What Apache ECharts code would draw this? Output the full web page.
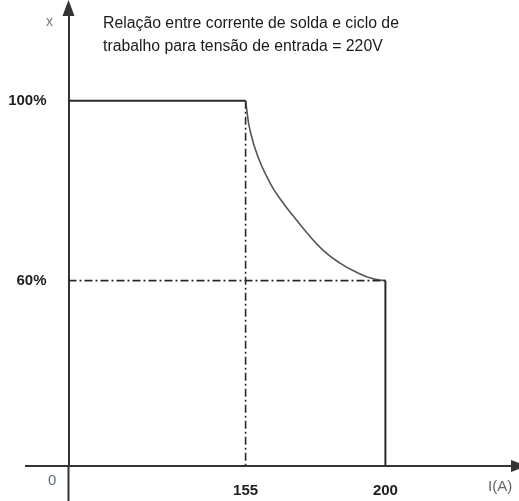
<!DOCTYPE html>
<html>
<head>
<meta charset="utf-8">
<script src="https://cdn.jsdelivr.net/npm/echarts@6/dist/echarts.min.js"></script>
<style>
  html, body { margin: 0; padding: 0; background: #fff; }
  #chart { width: 519px; height: 501px; }
</style>
</head>
<body>
<div id="chart"></div>
<script>
// the drawing is a sketch, not to scale: axis ranges chosen to fit it
var xMin = 98, xMax = 243;
var yMin = 18.8, yMax = 120.6;

var xTicks = [155, 200];
var yTicks = [60, 100];

// duty cycle curve (I in A, x in %)
var curveI = [155, 155.3, 156.4, 159.0, 162.9, 165.7, 170.3, 174.8, 179.9, 185.4, 190.9, 196.0, 200];
var curveX = [100, 98.4, 93.5, 87.5, 81.7, 78.6, 74.4, 70.6, 66.8, 63.9, 61.8, 60.4, 60];

var ink = '#2a2a2a';
var dashDot = [8, 3, 2, 3];

var chart = echarts.init(document.getElementById('chart'));

var curve = [];
for (var i = 0; i < curveI.length; i++) {
    curve.push([curveI[i], curveX[i]]);
}

var option = {
    animation: false,
    title: {
        text: 'Relação entre corrente de solda e ciclo de\ntrabalho para tensão de entrada = 220V',
        left: 98,
        top: 7,
        textStyle: {
            fontFamily: 'Liberation Sans',
            fontSize: 15.8,
            fontWeight: 'normal',
            color: '#1a1a1a',
            lineHeight: 23
        }
    },
    grid: { left: 68.5, right: 0, top: 8, bottom: 35 },
    xAxis: {
        type: 'value',
        min: xMin,
        max: xMax,
        splitLine: { show: false },
        axisTick: { show: false },
        axisLine: {
            onZero: false,
            symbol: ['none', 'triangle'],
            symbolSize: [12, 16],
            lineStyle: { color: '#333', width: 2 }
        },
        axisLabel: {
            customValues: xTicks,
            margin: 17,
            fontFamily: 'Liberation Sans',
            fontSize: 15,
            fontWeight: 'bold',
            color: '#1e1e1e'
        }
    },
    yAxis: {
        type: 'value',
        min: yMin,
        max: yMax,
        splitLine: { show: false },
        axisTick: { show: false },
        axisLine: {
            onZero: false,
            symbol: ['none', 'triangle'],
            symbolSize: [12, 16],
            lineStyle: { color: '#333', width: 2 }
        },
        axisLabel: {
            customValues: yTicks,
            margin: 22,
            fontFamily: 'Liberation Sans',
            fontSize: 15,
            fontWeight: 'bold',
            color: '#1e1e1e',
            formatter: function (v) { return v + '%'; }
        }
    },
    graphic: [
        // stubs of the axes past the origin
        { type: 'line', shape: { x1: 25, y1: 466, x2: 69, y2: 466 }, style: { stroke: '#333', lineWidth: 2 } },
        { type: 'line', shape: { x1: 68.5, y1: 466, x2: 68.5, y2: 501 }, style: { stroke: '#333', lineWidth: 2 } },
        { type: 'text', left: 48, top: 473, style: { text: '0', fontFamily: 'Liberation Sans', fontSize: 15, fill: '#5f6f80' } },
        { type: 'text', left: 46, top: 15, style: { text: 'x', fontFamily: 'Liberation Sans', fontSize: 14, fill: '#777' } },
        { type: 'text', left: 488, top: 479, style: { text: 'I(A)', fontFamily: 'Liberation Sans', fontSize: 15, fill: '#666' } }
    ],
    series: [
        {
            name: 'limite',
            type: 'line',
            symbol: 'none',
            clip: false,
            lineStyle: { color: ink, width: 2 },
            data: [[xMin, 100], [155, 100]]
        },
        {
            name: 'curva',
            type: 'line',
            symbol: 'none',
            smooth: 0.5,
            lineStyle: { color: '#555', width: 1.6 },
            data: curve
        },
        {
            name: '200A',
            type: 'line',
            symbol: 'none',
            lineStyle: { color: ink, width: 2 },
            data: [[200, 60], [200, yMin]]
        },
        {
            name: '155A',
            type: 'line',
            symbol: 'none',
            lineStyle: { color: ink, width: 1.6, type: dashDot },
            data: [[155, 100], [155, yMin]]
        },
        {
            name: '60%',
            type: 'line',
            symbol: 'none',
            lineStyle: { color: ink, width: 1.6, type: dashDot },
            data: [[xMin, 60], [200, 60]]
        }
    ]
};

chart.setOption(option);
</script>
</body>
</html>
